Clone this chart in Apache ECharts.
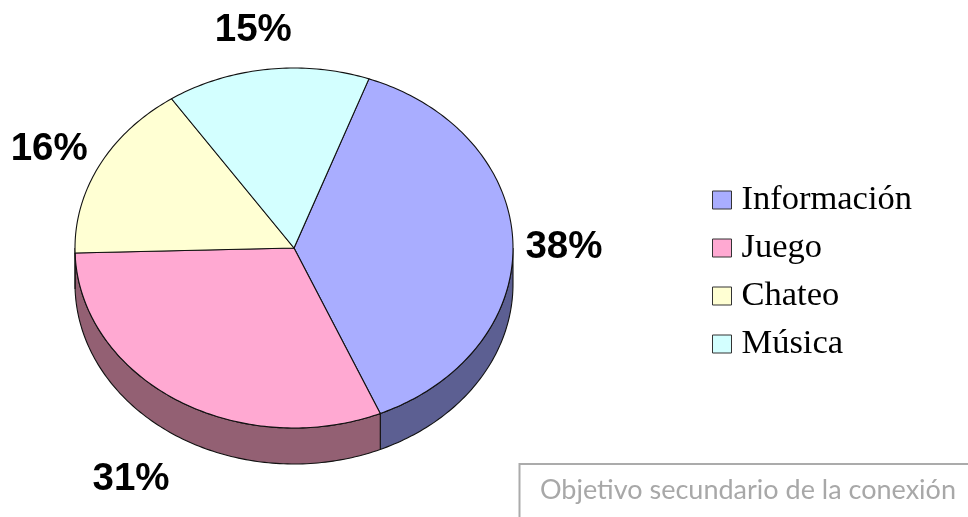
<!DOCTYPE html>
<html><head><meta charset="utf-8">
<style>html,body{margin:0;padding:0;background:#fff}#c{width:968px;height:517px}</style>
<script src="https://cdn.jsdelivr.net/npm/echarts@6/dist/echarts.min.js"></script>
</head><body><div id="c"></div>
<script>
const categories = ['Información', 'Juego', 'Chateo', 'Música'];
const values = [38, 31, 16, 15];
const topColors = ['#A9ADFF', '#FFA9D2', '#FFFFD3', '#D3FFFF'];
const sideColors = ['#5C5F92', '#936073', '#93937A', '#7A9393'];
const subtitle = 'Objetivo secundario de la conexión';

const cx = 294, cy = 248, rx = 219, ry = 180, depth = 36, startDeg = 70;
const labelOffsets = [[51, 4], [-45, 80], [-50, -16], [-14, -39]];
const total = values.reduce((a, b) => a + b, 0);
const pt = (deg, dy) => [cx + rx * Math.cos(deg * Math.PI / 180), cy - ry * Math.sin(deg * Math.PI / 180) + (dy || 0)];

function arc(from, to, dy) {
  const out = [];
  const n = Math.max(2, Math.ceil(Math.abs(to - from)));
  for (let i = 0; i <= n; i++) out.push(pt(from + (to - from) * i / n, dy));
  return out;
}

function makeRender(idx) {
  return function (params, api) {
    const before = values.slice(0, idx).reduce((a, b) => a + b, 0);
    const a0 = startDeg - before / total * 360;
    const a1 = a0 - api.value(0) / total * 360;
    const children = [];
    const lo = Math.max(a1, -180), hi = Math.min(a0, 0);
    if (hi > lo) {
      const upper = arc(hi, lo, 0), lower = arc(lo, hi, depth);
      children.push({
        type: 'polygon', shape: { points: upper.concat(lower) },
        style: { fill: sideColors[idx], stroke: '#111', lineWidth: 1.1 }
      });
    }
    children.push({
      type: 'polygon', shape: { points: [[cx, cy]].concat(arc(a0, a1)) },
      style: { fill: topColors[idx], stroke: '#111', lineWidth: 1.1, lineJoin: 'round' }
    });
    const mid = (a0 + a1) / 2, e = pt(mid);
    children.push({
      type: 'text',
      style: {
        x: e[0] + labelOffsets[idx][0], y: e[1] + labelOffsets[idx][1],
        text: Math.round(api.value(0) / total * 100) + '%',
        fill: '#000', align: 'center', verticalAlign: 'middle',
        font: 'bold 38.5px "Liberation Sans", Arial, sans-serif'
      }
    });
    return { type: 'group', children };
  };
}

const chart = echarts.init(document.getElementById('c'), null, { renderer: 'canvas' });
chart.setOption({
  animation: false,
  backgroundColor: '#fff',
  title: {
    text: subtitle, left: 540, top: 477, padding: 0,
    textStyle: { color: '#a8a8a8', fontSize: 27, fontWeight: 'normal', fontFamily: 'Lato' }
  },
  legend: {
    orient: 'vertical', left: 707, top: 175, itemGap: 8, itemWidth: 19, itemHeight: 18,
    icon: 'rect', selectedMode: false,
    textStyle: { fontFamily: '"Liberation Serif", serif', fontSize: 34.5, color: '#000', padding: [0, 0, 0, 5], height: 40, lineHeight: 40 },
    data: categories.map((name, i) => ({ name, itemStyle: { color: topColors[i], borderColor: '#333', borderWidth: 1 } }))
  },
  graphic: [{
    type: 'polyline', silent: true,
    shape: { points: [[968, 464], [519.5, 464], [519.5, 517]] },
    style: { fill: null, stroke: '#ababab', lineWidth: 2 }
  }],
  series: categories.map((name, i) => ({
    type: 'custom', name, coordinateSystem: 'none',
    renderItem: makeRender(i),
    itemStyle: { color: topColors[i] },
    data: [[values[i]]]
  }))
});
</script></body></html>
